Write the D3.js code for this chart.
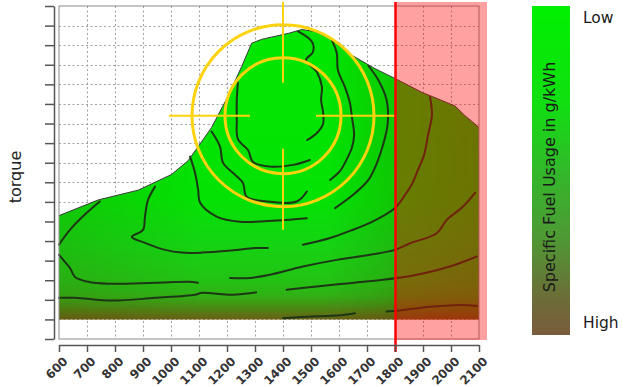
<!DOCTYPE html>
<html>
<head>
<meta charset="utf-8">
<script src="https://cdn.jsdelivr.net/npm/d3@7"></script>
<style>
body { margin: 0; background: #fff; }
svg { display: block; font-family: "DejaVu Sans", Verdana, sans-serif; }
</style>
</head>
<body>
<div id="chart"></div>
<script>
/*
 *  Values (rpm, torque)
 */
var rpmTicks = [600, 700, 800, 900, 1000, 1100, 1200, 1300, 1400, 1500, 1600, 1700, 1800, 1900, 2000, 2100];
var torqueTicks = [0, 10, 20, 30, 40, 50, 60, 70, 80, 90, 100, 110, 120, 130, 140, 150, 160, 170];

// full load curve
var fullLoad = [[600, 63], [740, 71], [883, 76], [1002, 84], [1061, 91], [1096, 98], [1145, 108], [1204, 124],
	[1252, 139], [1288, 151], [1324, 153], [1418, 156], [1467, 158], [1514, 157], [1574, 153], [1632, 146],
	[1729, 138], [1800, 133], [1895, 126], [2014, 119], [2050, 114], [2100, 108]];
var minTorque = 10;

// iso fuel lines
var iso1a = [[1239, 131], [1235, 122], [1235, 112], [1239, 102], [1275, 96.5], [1293, 90.4], [1354, 88], [1436, 88.9], [1496, 91.4]];
var iso1b = [[1454, 157], [1504, 151.6], [1507, 146.5], [1482, 142.4], [1521, 136.3], [1539, 128.7], [1536, 122], [1543, 115.9], [1543, 109.8], [1521, 105.2], [1486, 101.6]];
var iso2a = [[1145, 105.9], [1175, 98.2], [1186, 89.9], [1229, 83.8], [1257, 79.7], [1270, 72.7], [1342, 70.2], [1449, 70.2], [1485, 75.3]];
var iso2b = [[1574, 152.7], [1592, 146], [1596, 137.3], [1621, 128.7], [1639, 120.5], [1646, 113.4], [1654, 104.2], [1646, 97.6], [1632, 93], [1604, 85.8], [1568, 81.2]];
var iso3a = [[1068, 93.1], [1086, 84.8], [1097, 76.1], [1104, 69.5], [1163, 62.5], [1246, 59.9], [1377, 60.5], [1485, 61.7]];
var iso3b = [[1586, 66.8], [1657, 74.4], [1705, 81.2], [1735, 89.7], [1759, 99.9], [1774, 110.2], [1770, 122], [1740, 132.3], [1705, 139.5]];
var iso4a = [[943, 77.8], [918, 71], [907, 62.5], [900, 55.7], [860, 52.1], [907, 49.1], [979, 45.5], [1038, 44.1], [1110, 44.1], [1217, 45.2], [1300, 46.4], [1346, 46.5]];
var iso4b = [[1471, 48.1], [1568, 51.6], [1639, 55.2], [1718, 59.8], [1800, 66.9], [1836, 73.6], [1861, 79.2], [1882, 86.3], [1904, 94], [1918, 104.2], [1932, 114.4], [1925, 123.6]];
var iso5a = [[746, 70.2], [699, 64.4], [639, 55.7], [600, 48.1]];
var iso6a = [[600, 43], [621, 39.4], [639, 36.3], [657, 31.7], [704, 29.2], [775, 28.2], [943, 28.7], [1061, 29.2], [1096, 28.7]];
var iso6b = [[1211, 31.2], [1282, 31.2], [1354, 32.8], [1471, 37], [1592, 40.4], [1711, 43], [1800, 45.5], [1854, 48.9], [1949, 54], [1985, 60.8], [2043, 67.6], [2086, 74.6]];
var iso7a = [[600, 21], [657, 21], [789, 19.6], [943, 21], [1086, 22.6], [1111, 23.6], [1204, 22.6], [1304, 23.8]];
var iso7b = [[1413, 25.1], [1520, 26.8], [1639, 28.5], [1757, 30.2], [1806, 31.1], [1878, 32.8], [1996, 37], [2092, 42.1]];
var iso8a = [[1400, 10.6], [1521, 11.6], [1604, 12.1], [1657, 13.1]];
var iso8b = [[1770, 14], [1818, 14.6], [1936, 16.6], [2032, 17.4], [2093, 16.9]];

var sweetSpot = [1400, 114];
var rpmLimit = 1800;
var legendLabels = ["Low", "High"];
var legendTitle = "Specific Fuel Usage in g/kWh";
var yTitle = "torque";


/*
 *  Constructor for the fuel map
 */
function FuelMap(parentElement) {
	var vis = this;
	vis.parentElement = parentElement;
	vis.isoLines = [iso1a, iso1b, iso2a, iso2b, iso3a, iso3b, iso4a, iso4b, iso5a, iso6a, iso6b, iso7a, iso7b, iso8a, iso8b];
	vis.init();
}

FuelMap.prototype.init = function() {
	var vis = this;
	vis.width = 630;
	vis.height = 387;

	vis.svg = d3.select("#" + vis.parentElement).append("svg")
		.attr("width", vis.width)
		.attr("height", vis.height);

	vis.x = d3.scaleLinear().domain([600, 2100]).range([59, 479]);
	vis.y = d3.scaleLinear().domain([0, 170]).range([339, 6]);

	var defs = vis.svg.append("defs");

	// vertical shading of the map (green -> brown at low load)
	var vGrad = defs.append("linearGradient")
		.attr("id", "fill-v")
		.attr("gradientUnits", "userSpaceOnUse")
		.attr("x1", 0).attr("x2", 0)
		.attr("y1", vis.y(160)).attr("y2", vis.y(minTorque));
	[[0, "#00e600"], [0.59, "#04e204"], [0.74, "#14d412"], [0.86, "#22c414"], [0.92, "#30b014"], [0.96, "#4a8a14"], [1, "#6a6014"]]
		.forEach(function(s) {
			vGrad.append("stop").attr("offset", s[0]).attr("stop-color", s[1]);
		});

	// darker towards the edges in rpm
	var hGrad = defs.append("linearGradient")
		.attr("id", "fill-h")
		.attr("gradientUnits", "userSpaceOnUse")
		.attr("y1", 0).attr("y2", 0)
		.attr("x1", vis.x(600)).attr("x2", vis.x(2100));
	[[0, 0.14], [0.34, 0], [0.64, 0], [0.8, 0.16], [1, 0.26]].forEach(function(s) {
		hGrad.append("stop").attr("offset", s[0]).attr("stop-color", "#4a3a00").attr("stop-opacity", s[1]);
	});

	var lGrad = defs.append("linearGradient")
		.attr("id", "legend-grad")
		.attr("x1", 0).attr("x2", 0).attr("y1", 0).attr("y2", 1);
	[[0, "#00f000"], [0.3, "#12de12"], [0.5, "#32b82a"], [0.7, "#4e9a34"], [0.9, "#6e6a38"], [1, "#7a5c3c"]].forEach(function(s) {
		lGrad.append("stop").attr("offset", s[0]).attr("stop-color", s[1]);
	});

	vis.update();
};


/*
 *  The drawing function
 */
FuelMap.prototype.update = function() {
	var vis = this;
	var x = vis.x, y = vis.y;

	// grid
	var grid = vis.svg.append("g").attr("class", "grid")
		.attr("stroke", "#a0a0a0").attr("stroke-dasharray", "2,2.5").attr("stroke-width", 1);
	grid.selectAll(".gx").data(rpmTicks.slice(1, -1)).enter().append("line")
		.attr("x1", function(d) { return Math.round(x(d)) + 0.5; })
		.attr("x2", function(d) { return Math.round(x(d)) + 0.5; })
		.attr("y1", y(170)).attr("y2", y(0));
	grid.selectAll(".gy").data(torqueTicks.slice(1, -1)).enter().append("line")
		.attr("y1", function(d) { return Math.round(y(d)) + 0.5; })
		.attr("y2", function(d) { return Math.round(y(d)) + 0.5; })
		.attr("x1", x(600)).attr("x2", x(2100));

	// engine map
	var area = d3.area()
		.x(function(d) { return x(d[0]); })
		.y0(y(minTorque))
		.y1(function(d) { return y(d[1]); });

	vis.svg.append("path").datum(fullLoad).attr("d", area).attr("fill", "url(#fill-v)");
	vis.svg.append("path").datum(fullLoad).attr("d", area).attr("fill", "url(#fill-h)");

	var line = d3.line()
		.x(function(d) { return x(d[0]); })
		.y(function(d) { return y(d[1]); })
		.curve(d3.curveCatmullRom.alpha(0.5));

	vis.svg.append("g").attr("class", "iso")
		.selectAll("path").data(vis.isoLines).enter().append("path")
		.attr("d", line)
		.attr("fill", "none")
		.attr("stroke", "#1c3616")
		.attr("stroke-width", 2)
		.attr("stroke-linecap", "round");

	vis.svg.append("path").datum(fullLoad)
		.attr("d", d3.line().x(function(d) { return x(d[0]); }).y(function(d) { return y(d[1]); }))
		.attr("fill", "none").attr("stroke", "#3a3a3a").attr("stroke-width", 1);

	// frame
	vis.svg.append("rect")
		.attr("x", x(600)).attr("y", y(170))
		.attr("width", x(2100) - x(600)).attr("height", y(0) - y(170))
		.attr("fill", "none").attr("stroke", "#8a8a8a");

	// sweet spot crosshair
	var cx = x(sweetSpot[0]), cy = y(sweetSpot[1]);
	var gold = "#fdd20e";
	var cross = vis.svg.append("g").attr("class", "crosshair").attr("stroke", gold).attr("fill", "none");
	cross.selectAll("circle").data([91, 58]).enter().append("circle")
		.attr("cx", cx).attr("cy", cy).attr("r", function(d) { return d; })
		.attr("stroke-width", 3);
	var gap = 33, arm = 114;
	[[-1, 0], [1, 0], [0, -1], [0, 1]].forEach(function(dir) {
		cross.append("line")
			.attr("x1", cx + dir[0] * gap).attr("y1", cy + dir[1] * gap)
			.attr("x2", cx + dir[0] * arm).attr("y2", cy + dir[1] * arm)
			.attr("stroke-width", 2);
	});

	// region over the rpm limit
	vis.svg.append("rect")
		.attr("x", x(rpmLimit)).attr("y", 2)
		.attr("width", 487 - x(rpmLimit)).attr("height", 338)
		.attr("fill", "#ff0000").attr("fill-opacity", 0.37);
	vis.svg.append("line")
		.attr("x1", x(rpmLimit) + 0.5).attr("x2", x(rpmLimit) + 0.5)
		.attr("y1", 2).attr("y2", 352)
		.attr("stroke", "#ff0000").attr("stroke-width", 2.5);

	// axes
	var xAxis = d3.axisBottom(x).tickValues(rpmTicks).tickSize(7).tickSizeOuter(0).tickFormat(d3.format("d"));
	var gx = vis.svg.append("g").attr("class", "x-axis")
		.attr("transform", "translate(0,345)")
		.call(xAxis)
		.attr("font-family", "DejaVu Sans, sans-serif")
		.attr("font-size", 12);
	gx.selectAll("line, path").attr("stroke", "#555").attr("stroke-width", 1.5);
	gx.selectAll("text")
		.attr("x", 0).attr("y", 0).attr("dy", 0)
		.attr("text-anchor", "end")
		.attr("fill", "#333")
		.attr("font-weight", 600)
		.attr("transform", "translate(9,17) rotate(-45)");

	var yAxis = d3.axisLeft(y).tickValues(torqueTicks).tickSize(9).tickSizeOuter(0).tickFormat("");
	var gy = vis.svg.append("g").attr("class", "y-axis")
		.attr("transform", "translate(54,0)")
		.call(yAxis);
	gy.selectAll("line, path").attr("stroke", "#555").attr("stroke-width", 1.5);

	vis.svg.append("text")
		.attr("transform", "translate(21,177) rotate(-90)")
		.attr("text-anchor", "middle")
		.attr("font-size", 16)
		.attr("fill", "#222")
		.text(yTitle);

	// legend
	var legend = vis.svg.append("g").attr("class", "legend");
	legend.append("rect")
		.attr("x", 532).attr("y", 6)
		.attr("width", 38).attr("height", 329)
		.attr("fill", "url(#legend-grad)");
	legend.append("text")
		.attr("transform", "translate(555,177) rotate(-90)")
		.attr("text-anchor", "middle")
		.attr("font-size", 16)
		.attr("fill", "#1a1a1a")
		.text(legendTitle);
	legend.selectAll(".lbl").data(legendLabels).enter().append("text")
		.attr("class", "lbl")
		.attr("x", 583)
		.attr("y", function(d, i) { return i === 0 ? 23 : 328; })
		.attr("font-size", 15.5)
		.attr("fill", "#1a1a1a")
		.text(function(d) { return d; });
};

var fuelMap = new FuelMap("chart");
</script>
</body>
</html>
